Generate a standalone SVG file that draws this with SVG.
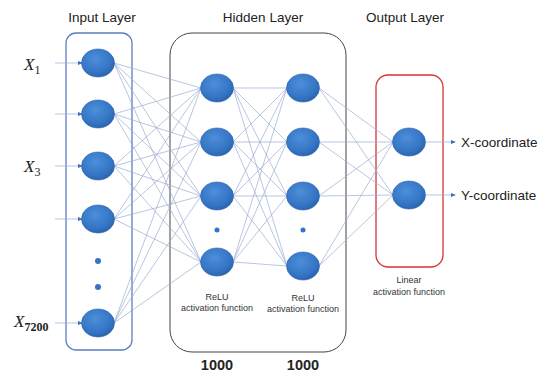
<svg xmlns="http://www.w3.org/2000/svg" width="546" height="372" viewBox="0 0 546 372">
<defs>
<radialGradient id="ng" cx="0.42" cy="0.35" r="0.7">
<stop offset="0" stop-color="#4d8fdb"/>
<stop offset="0.7" stop-color="#3474c4"/>
<stop offset="1" stop-color="#2a5fa6"/>
</radialGradient>
<marker id="ah" viewBox="0 0 6 6" refX="5" refY="3" markerWidth="5" markerHeight="5" orient="auto" markerUnits="userSpaceOnUse">
<path d="M0,0.5 L6,3 L0,5.5 z" fill="#3f6fb5"/>
</marker>
<style>
.n{fill:url(#ng);stroke:#2d67b0;stroke-width:0.6}
.d{fill:#3474c4}
.c line{stroke:#9aaed3;stroke-width:0.7}
.a{stroke:#a5b8da;stroke-width:1;marker-end:url(#ah)}
.t{font-family:"Liberation Sans",Arial,sans-serif;fill:#222}
.title{font-size:13.5px}
.s{font-size:9px;fill:#333}
.lab{font-family:"Liberation Serif","Times New Roman",serif;font-style:italic;fill:#222}
.sub{font-size:12px;font-style:normal}
</style>
</defs>
<rect width="546" height="372" fill="#fff"/>

<text class="t title" x="102" y="22" text-anchor="middle">Input Layer</text>
<text class="t title" x="263" y="22" text-anchor="middle">Hidden Layer</text>
<text class="t title" x="405" y="22" text-anchor="middle">Output Layer</text>

<g id="input-box"><rect x="66" y="33" width="66" height="317" rx="10" fill="none" stroke="#5a7fc0" stroke-width="1.3"/></g>
<g id="hidden-box"><rect x="170" y="33" width="176" height="319" rx="22" fill="none" stroke="#444" stroke-width="1"/></g>
<g id="output-box"><rect x="376" y="75" width="67" height="192" rx="12" fill="none" stroke="#d8343a" stroke-width="1.3"/></g>

<g class="c" id="connectors">
<line x1="114" y1="63" x2="201" y2="88"/><line x1="114" y1="63" x2="201" y2="142"/><line x1="114" y1="63" x2="201" y2="196"/><line x1="114" y1="63" x2="201" y2="262"/>
<line x1="114" y1="114" x2="201" y2="88"/><line x1="114" y1="114" x2="201" y2="142"/><line x1="114" y1="114" x2="201" y2="196"/><line x1="114" y1="114" x2="201" y2="262"/>
<line x1="114" y1="166" x2="201" y2="88"/><line x1="114" y1="166" x2="201" y2="142"/><line x1="114" y1="166" x2="201" y2="196"/><line x1="114" y1="166" x2="201" y2="262"/>
<line x1="114" y1="219" x2="201" y2="88"/><line x1="114" y1="219" x2="201" y2="142"/><line x1="114" y1="219" x2="201" y2="196"/><line x1="114" y1="219" x2="201" y2="262"/>
<line x1="114" y1="323" x2="201" y2="88"/><line x1="114" y1="323" x2="201" y2="142"/><line x1="114" y1="323" x2="201" y2="196"/><line x1="114" y1="323" x2="201" y2="262"/>
<line x1="233" y1="88" x2="287" y2="88"/><line x1="233" y1="88" x2="287" y2="142"/><line x1="233" y1="88" x2="287" y2="196"/><line x1="233" y1="88" x2="287" y2="266"/>
<line x1="233" y1="142" x2="287" y2="88"/><line x1="233" y1="142" x2="287" y2="142"/><line x1="233" y1="142" x2="287" y2="196"/><line x1="233" y1="142" x2="287" y2="266"/>
<line x1="233" y1="196" x2="287" y2="88"/><line x1="233" y1="196" x2="287" y2="142"/><line x1="233" y1="196" x2="287" y2="196"/><line x1="233" y1="196" x2="287" y2="266"/>
<line x1="233" y1="262" x2="287" y2="88"/><line x1="233" y1="262" x2="287" y2="142"/><line x1="233" y1="262" x2="287" y2="196"/><line x1="233" y1="262" x2="287" y2="266"/>
<line x1="319" y1="88" x2="393" y2="142"/><line x1="319" y1="88" x2="393" y2="195"/>
<line x1="319" y1="142" x2="393" y2="142"/><line x1="319" y1="142" x2="393" y2="195"/>
<line x1="319" y1="196" x2="393" y2="142"/><line x1="319" y1="196" x2="393" y2="195"/>
<line x1="319" y1="266" x2="393" y2="142"/><line x1="319" y1="266" x2="393" y2="195"/>
<line class="a" x1="55" y1="63" x2="82" y2="63"/>
<line class="a" x1="55" y1="114" x2="82" y2="114"/>
<line class="a" x1="55" y1="166" x2="82" y2="166"/>
<line class="a" x1="55" y1="219" x2="82" y2="219"/>
<line class="a" x1="55" y1="323" x2="82" y2="323"/>
<line class="a" x1="426" y1="142" x2="455" y2="142"/>
<line class="a" x1="426" y1="195" x2="455" y2="195"/>
</g>

<g id="in1"><ellipse class="n" cx="98" cy="63" rx="16.5" ry="14"/></g>
<g id="in2"><ellipse class="n" cx="98" cy="114" rx="16.5" ry="14"/></g>
<g id="in3"><ellipse class="n" cx="98" cy="166" rx="16.5" ry="14"/></g>
<g id="in4"><ellipse class="n" cx="98" cy="219" rx="16.5" ry="14"/></g>
<g id="in-dots"><circle class="d" cx="98" cy="261" r="3"/><circle class="d" cx="98" cy="287" r="3"/></g>
<g id="in5"><ellipse class="n" cx="98" cy="323" rx="16.5" ry="14"/></g>

<g id="h1a"><ellipse class="n" cx="217" cy="88" rx="16.5" ry="14"/></g>
<g id="h1b"><ellipse class="n" cx="217" cy="142" rx="16.5" ry="14"/></g>
<g id="h1c"><ellipse class="n" cx="217" cy="196" rx="16.5" ry="14"/></g>
<g id="h1-dot"><circle class="d" cx="217" cy="230" r="2.5"/></g>
<g id="h1d"><ellipse class="n" cx="217" cy="262" rx="16.5" ry="14"/></g>

<g id="h2a"><ellipse class="n" cx="303" cy="88" rx="16.5" ry="14"/></g>
<g id="h2b"><ellipse class="n" cx="303" cy="142" rx="16.5" ry="14"/></g>
<g id="h2c"><ellipse class="n" cx="303" cy="196" rx="16.5" ry="14"/></g>
<g id="h2-dot"><circle class="d" cx="303" cy="230" r="2.5"/></g>
<g id="h2d"><ellipse class="n" cx="303" cy="266" rx="16.5" ry="14"/></g>

<g id="o1"><ellipse class="n" cx="409" cy="142" rx="16.5" ry="14"/></g>
<g id="o2"><ellipse class="n" cx="409" cy="195" rx="16.5" ry="14"/></g>

<text class="lab" x="24" y="70" font-size="17">X<tspan class="sub" dy="4">1</tspan></text>
<text class="lab" x="24" y="172" font-size="17">X<tspan class="sub" dy="4">3</tspan></text>
<text class="lab" x="14" y="327" font-size="17">X<tspan class="sub" font-weight="bold" dy="4">7200</tspan></text>

<text class="t s" x="217" y="300" text-anchor="middle">ReLU</text>
<text class="t s" x="217" y="311" text-anchor="middle">activation function</text>
<text class="t s" x="303" y="301" text-anchor="middle">ReLU</text>
<text class="t s" x="303" y="312" text-anchor="middle">activation function</text>
<text class="t s" x="409" y="283" text-anchor="middle">Linear</text>
<text class="t s" x="409" y="295" text-anchor="middle">activation function</text>

<text class="t" x="217" y="370" font-size="14.5" font-weight="bold" fill="#333" text-anchor="middle">1000</text>
<text class="t" x="303" y="370" font-size="14.5" font-weight="bold" fill="#333" text-anchor="middle">1000</text>

<text class="t" x="461" y="147" font-size="13.5">X-coordinate</text>
<text class="t" x="461" y="200" font-size="13.5">Y-coordinate</text>
</svg>
